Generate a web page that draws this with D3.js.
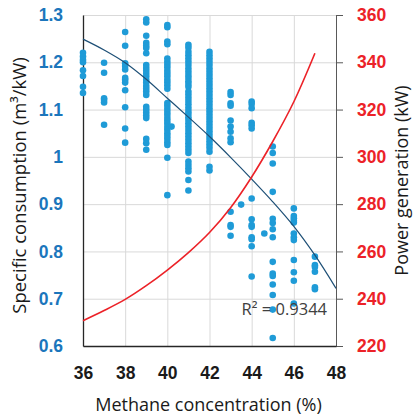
<!DOCTYPE html>
<html>
<head>
<meta charset="utf-8">
<script src="https://cdn.jsdelivr.net/npm/d3@7"></script>
<style>
body { margin: 0; background: #fff; }
svg { font-family: "Open Sans", sans-serif; }
</style>
</head>
<body>
<svg class="chart" width="414" height="418"></svg>
<script>
// scatter: methane concentration (%) vs specific consumption (m3/kW)
var colX = [36, 37, 38, 39, 40, 41, 42, 43, 44, 45, 46, 47];
var colY = [
  [1.220, 1.212, 1.205, 1.200, 1.183, 1.171, 1.148, 1.135],
  [1.199, 1.178, 1.124, 1.120, 1.115, 1.068],
  [1.264, 1.235, 1.198, 1.192, 1.185, 1.167, 1.163, 1.157, 1.141, 1.105, 1.060, 1.030],
  [1.291, 1.284, 1.256, 1.241, 1.235, 1.230, 1.219, 1.194, 1.188, 1.182, 1.176, 1.170, 1.163,
   1.157, 1.150, 1.144, 1.138, 1.131, 1.106, 1.100, 1.094, 1.088, 1.082, 1.038, 1.029, 1.015],
  [1.279, 1.274, 1.244, 1.238, 1.208, 1.201, 1.195, 1.189, 1.182, 1.176, 1.170, 1.163, 1.157,
   1.151, 1.144, 1.114, 1.108, 1.101, 1.095, 1.089, 1.082, 1.076, 1.070, 1.063, 1.057, 1.050,
   1.044, 1.038, 1.031, 1.025, 0.998, 0.919],
  [1.237, 1.231, 1.222, 1.215, 1.208, 1.201, 1.194, 1.187, 1.180, 1.173, 1.167, 1.160, 1.154,
   1.148, 1.138, 1.132, 1.125, 1.118, 1.111, 1.104, 1.097, 1.091, 1.084, 1.078, 1.071, 1.064,
   1.057, 1.050, 1.043, 1.036, 1.029, 1.022, 1.015, 1.008, 0.990, 0.983, 0.976, 0.969, 0.951, 0.929],
  [1.222, 1.215, 1.208, 1.201, 1.194, 1.187, 1.180, 1.173, 1.166, 1.159, 1.152, 1.145, 1.138,
   1.131, 1.124, 1.117, 1.110, 1.103, 1.096, 1.089, 1.082, 1.075, 1.068, 1.061, 1.054, 1.047,
   1.040, 1.033, 1.026, 1.019, 1.011, 0.979, 0.971],
  [1.137, 1.131, 1.113, 1.108, 1.077, 1.064, 1.053, 1.039, 1.031, 0.884, 0.856, 0.852, 0.833],
  [1.117, 1.112, 1.103, 1.072, 1.067, 1.060, 0.912, 0.868, 0.856, 0.852, 0.830, 0.826, 0.811, 0.747],
  [1.022, 1.008, 0.986, 0.926, 0.869, 0.860, 0.847, 0.830, 0.778, 0.753, 0.748, 0.730, 0.708, 0.677, 0.617],
  [0.891, 0.875, 0.870, 0.865, 0.861, 0.838, 0.830, 0.824, 0.782, 0.756, 0.738, 0.690],
  [0.789, 0.771, 0.767, 0.757, 0.724, 0.720]
];
// a few points that sit between the columns
var extraX = [40.2, 43.5, 44.6];
var extraY = [1.064, 0.899, 0.838];

// trend line
var trendX = [36, 37, 38, 39, 40, 41, 42, 43, 44, 45, 46, 47, 48];
var trendY = [1.249, 1.226, 1.199, 1.164, 1.124, 1.084, 1.043, 0.999, 0.953, 0.905, 0.853, 0.792, 0.722];

// power generation (kW), right axis
var powerX = [36, 37, 38, 39, 40, 41, 42, 43, 44, 45, 46, 47];
var powerY = [230.7, 235, 239.7, 245.5, 252.1, 259.5, 268, 278.5, 291.5, 306.5, 323.3, 343.8];

var xTicks = [36, 38, 40, 42, 44, 46, 48];
var yTicks = [0.6, 0.7, 0.8, 0.9, 1.0, 1.1, 1.2, 1.3];
var y2Ticks = [220, 240, 260, 280, 300, 320, 340, 360];
var r2Label = "R\u00b2 = 0.9344";

var svg = d3.select(".chart");
var margin = {top: 15, left: 83, right: 78, bottom: 72},
    width = +svg.attr("width") - margin.left - margin.right,
    height = +svg.attr("height") - margin.top - margin.bottom;

var g = svg.append("g").attr("transform", "translate(" + margin.left + "," + margin.top + ")");

var x = d3.scaleLinear().domain([36, 48]).range([0, width]);
var y = d3.scaleLinear().domain([0.6, 1.3]).range([height, 0]);
var y2 = d3.scaleLinear().domain([220, 360]).range([height, 0]);

//grid
g.append("g")
  .call(d3.axisBottom(x).tickValues(xTicks).tickSize(height).tickFormat(""))
  .call(function(s) { s.select(".domain").remove(); })
  .selectAll("line").attr("stroke", "#d9d9d9");
g.append("g")
  .call(d3.axisLeft(y).tickValues(yTicks).tickSize(-width).tickFormat(""))
  .call(function(s) { s.select(".domain").remove(); })
  .selectAll("line").attr("stroke", "#d9d9d9");

//left axis
var yAxis = g.append("g")
  .call(d3.axisLeft(y).tickValues(yTicks).tickSize(0).tickPadding(20)
    .tickFormat(function(d) { return d === 1 ? "1" : d3.format(".1f")(d); }));
yAxis.select(".domain").attr("stroke", "#262626").attr("stroke-width", 1.3);
yAxis.selectAll("text").attr("fill", "#1b76bc").style("font-size", "17.5px").style("font-weight", "bold");

//right axis
var y2Axis = g.append("g")
  .attr("transform", "translate(" + width + ",0)")
  .call(d3.axisRight(y2).tickValues(y2Ticks).tickSize(7).tickSizeOuter(7).tickPadding(14));
y2Axis.select(".domain").attr("stroke", "#595959");
y2Axis.selectAll("line").attr("stroke", "#595959");
y2Axis.selectAll("text").attr("fill", "#ec2228").style("font-size", "17.5px").style("font-weight", "bold");

//x axis
var xAxis = g.append("g")
  .attr("transform", "translate(0," + height + ")")
  .call(d3.axisBottom(x).tickValues(xTicks).tickSize(0).tickPadding(21));
xAxis.select(".domain").attr("stroke", "#262626").attr("stroke-width", 1.3);
xAxis.selectAll("text").attr("fill", "#1a1a1a").style("font-size", "17.5px").style("font-weight", "bold");

//dots
var pts = [];
colX.forEach(function(cx, i) {
  colY[i].forEach(function(v) { pts.push({x: cx, y: v}); });
});
extraX.forEach(function(cx, i) { pts.push({x: cx, y: extraY[i]}); });

g.selectAll(".dot")
  .data(pts)
  .enter().append("circle")
  .attr("class", "dot")
  .attr("cx", function(d) { return x(d.x); })
  .attr("cy", function(d) { return y(d.y); })
  .attr("r", 3.3)
  .attr("fill", "#1f9bd7");

//trend line
var trend = trendX.map(function(d, i) { return {x: d, y: trendY[i]}; });
g.append("path")
  .datum(trend)
  .attr("fill", "none")
  .attr("stroke", "#1d4f76")
  .attr("stroke-width", 1.2)
  .attr("d", d3.line().curve(d3.curveCatmullRom)
    .x(function(d) { return x(d.x); })
    .y(function(d) { return y(d.y); }));

//power curve
var power = powerX.map(function(d, i) { return {x: d, y: powerY[i]}; });
g.append("path")
  .datum(power)
  .attr("fill", "none")
  .attr("stroke", "#ec2228")
  .attr("stroke-width", 1.6)
  .attr("d", d3.line().curve(d3.curveCatmullRom)
    .x(function(d) { return x(d.x); })
    .y(function(d) { return y2(d.y); }));

//R2 label
g.append("text")
  .attr("x", x(48) - 9)
  .attr("y", y(0.665))
  .attr("text-anchor", "end")
  .attr("fill", "#404040")
  .style("font-size", "16.5px")
  .text(r2Label);

//axis titles
svg.append("text")
  .attr("transform", "translate(26," + (margin.top + height / 2 + 5) + ") rotate(-90)")
  .attr("text-anchor", "middle")
  .attr("fill", "#1a1a1a")
  .style("font-size", "18.5px")
  .text("Specific consumption (m\u00b3/kW)");

svg.append("text")
  .attr("transform", "translate(408," + (margin.top + height / 2) + ") rotate(-90)")
  .attr("text-anchor", "middle")
  .attr("fill", "#1a1a1a")
  .style("font-size", "18px")
  .text("Power generation (kW)");

svg.append("text")
  .attr("x", margin.left + width / 2 - 1)
  .attr("y", 411)
  .attr("text-anchor", "middle")
  .attr("fill", "#1a1a1a")
  .style("font-size", "18px")
  .text("Methane concentration (%)");
</script>
</body>
</html>
